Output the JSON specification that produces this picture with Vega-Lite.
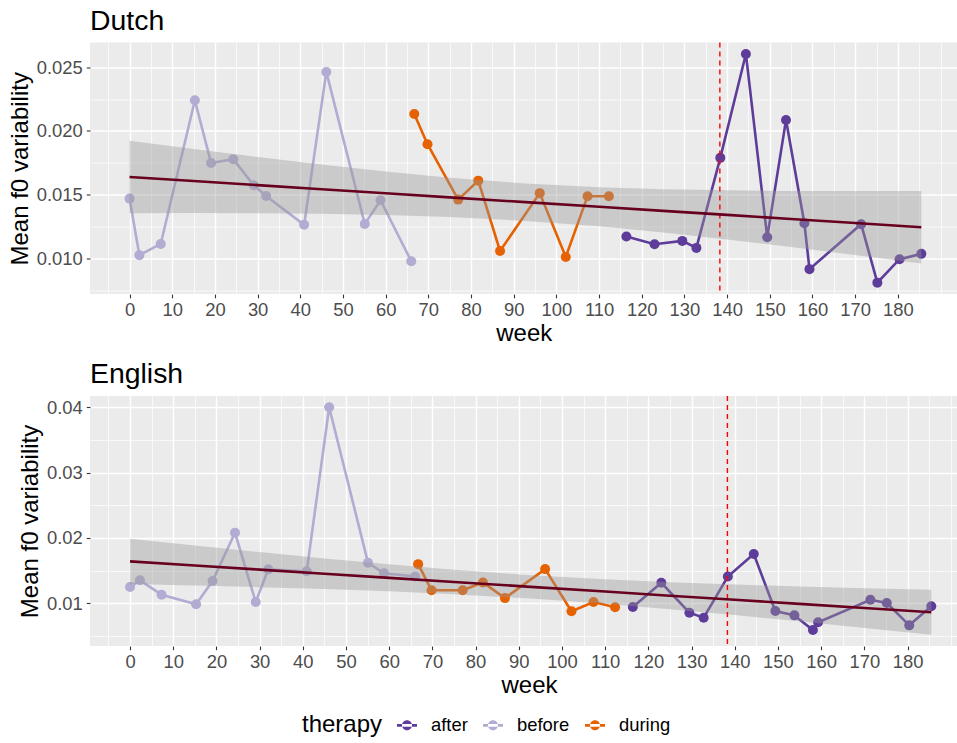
{
  "$schema": "https://vega.github.io/schema/vega-lite/v6.json",
  "padding": {"left": 8, "top": 6.5, "right": 0, "bottom": 0},
  "datasets": {
    "dutch": [
      {"week": 0, "f0": 0.01468, "therapy": "before"},
      {"week": 2.3, "f0": 0.01024, "therapy": "before"},
      {"week": 7.3, "f0": 0.01112, "therapy": "before"},
      {"week": 15.3, "f0": 0.0224, "therapy": "before"},
      {"week": 19.1, "f0": 0.01748, "therapy": "before"},
      {"week": 24.3, "f0": 0.01777, "therapy": "before"},
      {"week": 29.1, "f0": 0.01573, "therapy": "before"},
      {"week": 32.0, "f0": 0.01489, "therapy": "before"},
      {"week": 40.9, "f0": 0.01262, "therapy": "before"},
      {"week": 46.1, "f0": 0.02463, "therapy": "before"},
      {"week": 55.1, "f0": 0.01269, "therapy": "before"},
      {"week": 58.8, "f0": 0.01455, "therapy": "before"},
      {"week": 66.0, "f0": 0.00976, "therapy": "before"},
      {"week": 66.7, "f0": 0.02133, "therapy": "during"},
      {"week": 69.8, "f0": 0.01895, "therapy": "during"},
      {"week": 77.0, "f0": 0.0146, "therapy": "during"},
      {"week": 81.7, "f0": 0.01609, "therapy": "during"},
      {"week": 86.8, "f0": 0.01057, "therapy": "during"},
      {"week": 96.1, "f0": 0.01511, "therapy": "during"},
      {"week": 102.2, "f0": 0.0101, "therapy": "during"},
      {"week": 107.3, "f0": 0.01487, "therapy": "during"},
      {"week": 112.3, "f0": 0.01487, "therapy": "during"},
      {"week": 116.4, "f0": 0.0117, "therapy": "after"},
      {"week": 123.0, "f0": 0.0111, "therapy": "after"},
      {"week": 129.5, "f0": 0.01136, "therapy": "after"},
      {"week": 132.8, "f0": 0.01081, "therapy": "after"},
      {"week": 138.4, "f0": 0.01788, "therapy": "after"},
      {"week": 144.4, "f0": 0.02604, "therapy": "after"},
      {"week": 149.4, "f0": 0.01165, "therapy": "after"},
      {"week": 153.8, "f0": 0.02086, "therapy": "after"},
      {"week": 158.1, "f0": 0.01275, "therapy": "after"},
      {"week": 159.3, "f0": 0.00914, "therapy": "after"},
      {"week": 171.4, "f0": 0.01267, "therapy": "after"},
      {"week": 175.2, "f0": 0.00808, "therapy": "after"},
      {"week": 180.4, "f0": 0.00992, "therapy": "after"},
      {"week": 185.5, "f0": 0.01034, "therapy": "after"}
    ],
    "english": [
      {"week": 0, "f0": 0.01249, "therapy": "before"},
      {"week": 2.3, "f0": 0.01352, "therapy": "before"},
      {"week": 7.3, "f0": 0.01132, "therapy": "before"},
      {"week": 15.3, "f0": 0.00985, "therapy": "before"},
      {"week": 19.1, "f0": 0.01341, "therapy": "before"},
      {"week": 24.3, "f0": 0.0208, "therapy": "before"},
      {"week": 29.1, "f0": 0.0102, "therapy": "before"},
      {"week": 32.0, "f0": 0.0152, "therapy": "before"},
      {"week": 40.9, "f0": 0.0149, "therapy": "before"},
      {"week": 46.1, "f0": 0.0400, "therapy": "before"},
      {"week": 55.1, "f0": 0.0162, "therapy": "before"},
      {"week": 58.8, "f0": 0.0146, "therapy": "before"},
      {"week": 66.0, "f0": 0.0141, "therapy": "before"},
      {"week": 66.7, "f0": 0.0160, "therapy": "during"},
      {"week": 69.8, "f0": 0.0120, "therapy": "during"},
      {"week": 77.0, "f0": 0.0120, "therapy": "during"},
      {"week": 81.7, "f0": 0.0132, "therapy": "during"},
      {"week": 86.8, "f0": 0.0108, "therapy": "during"},
      {"week": 96.1, "f0": 0.01524, "therapy": "during"},
      {"week": 102.2, "f0": 0.00878, "therapy": "during"},
      {"week": 107.3, "f0": 0.0102, "therapy": "during"},
      {"week": 112.3, "f0": 0.00939, "therapy": "during"},
      {"week": 116.4, "f0": 0.00943, "therapy": "after"},
      {"week": 123.0, "f0": 0.01315, "therapy": "after"},
      {"week": 129.5, "f0": 0.00857, "therapy": "after"},
      {"week": 132.8, "f0": 0.0078, "therapy": "after"},
      {"week": 138.4, "f0": 0.0141, "therapy": "after"},
      {"week": 144.4, "f0": 0.01754, "therapy": "after"},
      {"week": 149.4, "f0": 0.00882, "therapy": "after"},
      {"week": 153.8, "f0": 0.00816, "therapy": "after"},
      {"week": 158.1, "f0": 0.00592, "therapy": "after"},
      {"week": 159.3, "f0": 0.0071, "therapy": "after"},
      {"week": 171.4, "f0": 0.01055, "therapy": "after"},
      {"week": 175.2, "f0": 0.01005, "therapy": "after"},
      {"week": 180.4, "f0": 0.00663, "therapy": "after"},
      {"week": 185.5, "f0": 0.00954, "therapy": "after"}
    ],
    "dband": [
      {"week": 0, "fit": 0.01638, "lo": 0.01353, "hi": 0.01923},
      {"week": 15, "fit": 0.01606, "lo": 0.01354, "hi": 0.01858},
      {"week": 30, "fit": 0.01574, "lo": 0.01353, "hi": 0.01795},
      {"week": 45, "fit": 0.01542, "lo": 0.01349, "hi": 0.01735},
      {"week": 60, "fit": 0.0151, "lo": 0.0134, "hi": 0.0168},
      {"week": 75, "fit": 0.01478, "lo": 0.01324, "hi": 0.01632},
      {"week": 92.75, "fit": 0.0144, "lo": 0.01293, "hi": 0.01587},
      {"week": 110, "fit": 0.01404, "lo": 0.0125, "hi": 0.01558},
      {"week": 125, "fit": 0.01372, "lo": 0.01202, "hi": 0.01542},
      {"week": 140, "fit": 0.0134, "lo": 0.01147, "hi": 0.01533},
      {"week": 155, "fit": 0.01308, "lo": 0.01088, "hi": 0.01528},
      {"week": 170, "fit": 0.01276, "lo": 0.01025, "hi": 0.01527},
      {"week": 185.5, "fit": 0.01243, "lo": 0.00958, "hi": 0.01528}
    ],
    "eband": [
      {"week": 0, "fit": 0.01642, "lo": 0.01297, "hi": 0.01987},
      {"week": 15, "fit": 0.01579, "lo": 0.01274, "hi": 0.01884},
      {"week": 30, "fit": 0.01516, "lo": 0.01248, "hi": 0.01784},
      {"week": 45, "fit": 0.01453, "lo": 0.01218, "hi": 0.01688},
      {"week": 60, "fit": 0.0139, "lo": 0.01183, "hi": 0.01597},
      {"week": 75, "fit": 0.01327, "lo": 0.01139, "hi": 0.01515},
      {"week": 92.75, "fit": 0.01252, "lo": 0.01073, "hi": 0.01431},
      {"week": 110, "fit": 0.0118, "lo": 0.00993, "hi": 0.01367},
      {"week": 125, "fit": 0.01117, "lo": 0.00911, "hi": 0.01323},
      {"week": 140, "fit": 0.01054, "lo": 0.0082, "hi": 0.01288},
      {"week": 155, "fit": 0.00991, "lo": 0.00724, "hi": 0.01258},
      {"week": 170, "fit": 0.00928, "lo": 0.00624, "hi": 0.01232},
      {"week": 185.5, "fit": 0.00863, "lo": 0.00518, "hi": 0.01208}
    ],
    "vline": [{"week": 138.3}]
  },
  "vconcat": [
    {
      "title": {"text": "Dutch", "anchor": "start", "frame": "group", "fontSize": 28.4, "font": "Liberation Sans", "fontWeight": "normal", "color": "black", "baseline": "alphabetic", "offset": -16.8},
      "width": 867.6,
      "height": 251.6,
      "resolve": {"axis": {"x": "independent", "y": "independent"}},
      "layer": [
        {
          "layer": [
            {
              "data": {"name": "dutch"},
              "transform": [{"filter": {"field": "therapy", "equal": "before"}}],
              "mark": {"type": "line", "strokeWidth": 2.6, "color": "#B2ABD2"},
              "encoding": {
                "x": {"field": "week", "type": "quantitative", "title": "week",
                  "scale": {"domain": [-9.27, 194.0], "nice": false, "zero": false},
                  "axis": {"values": [0,10,20,30,40,50,60,70,80,90,100,110,120,130,140,150,160,170,180],
                    "gridWidth": 1.4, "minExtent": 22, "maxExtent": 22, "titlePadding": 5, "labelPadding": 2.9}},
                "y": {"field": "f0", "type": "quantitative", "title": "Mean f0 variability",
                  "scale": {"domain": [0.00718, 0.02694], "nice": false, "zero": false},
                  "axis": {"values": [0.01, 0.015, 0.02, 0.025], "format": ".3f", "gridWidth": 1.4,
                    "titlePadding": 4, "labelPadding": 4}}
              }
            },
            {
              "data": {"name": "dutch"},
              "transform": [{"filter": {"field": "therapy", "equal": "during"}}],
              "mark": {"type": "line", "strokeWidth": 2.6, "color": "#E66101"},
              "encoding": {
                "x": {"field": "week", "type": "quantitative"},
                "y": {"field": "f0", "type": "quantitative"}
              }
            },
            {
              "data": {"name": "dutch"},
              "transform": [{"filter": {"field": "therapy", "equal": "after"}}],
              "mark": {"type": "line", "strokeWidth": 2.6, "color": "#5E3C99"},
              "encoding": {
                "x": {"field": "week", "type": "quantitative"},
                "y": {"field": "f0", "type": "quantitative"}
              }
            },
            {
              "data": {"name": "dutch"},
              "mark": {"type": "point", "filled": true, "size": 100, "opacity": 1},
              "encoding": {
                "x": {"field": "week", "type": "quantitative"},
                "y": {"field": "f0", "type": "quantitative"},
                "color": {"field": "therapy", "type": "nominal",
                  "scale": {"domain": ["after", "before", "during"], "range": ["#5E3C99", "#B2ABD2", "#E66101"]},
                  "legend": {"orient": "none", "legendX": 212, "legendY": 672.5, "direction": "horizontal", "title": "therapy",
                    "titleOrient": "left", "titleAnchor": "middle", "titleBaseline": "middle", "titlePadding": 14,
                    "titleFont": "Liberation Sans", "titleFontSize": 24, "titleFontWeight": "normal", "titleColor": "black",
                    "labelFont": "Liberation Sans", "labelFontSize": 18.4, "labelColor": "black", "labelOffset": 14,
                    "columnPadding": 15, "padding": 0,
                    "symbolType": "M-1,-0.14L1,-0.14L1,0.14L-1,0.14Z M-0.5,0A0.5,0.5 0 1,0 0.5,0A0.5,0.5 0 1,0 -0.5,0Z",
                    "symbolSize": 400, "symbolStrokeWidth": 0, "symbolOpacity": 1}}
              }
            },
            {
              "data": {"name": "dband"},
              "mark": {"type": "area", "color": "#999999", "opacity": 0.4},
              "encoding": {
                "x": {"field": "week", "type": "quantitative"},
                "y": {"field": "lo", "type": "quantitative"},
                "y2": {"field": "hi"}
              }
            },
            {
              "data": {"name": "vline"},
              "mark": {"type": "rule", "color": "#FF0000", "strokeWidth": 1.4, "strokeDash": [5, 4]},
              "encoding": {
                "x": {"field": "week", "type": "quantitative"}
              }
            }
          ]
        },
        {
          "data": {"name": "dband"},
          "mark": {"type": "line", "color": "#67001F", "strokeWidth": 2.6},
          "encoding": {
            "x": {"field": "week", "type": "quantitative",
              "axis": {"orient": "top", "values": [-5,5,15,25,35,45,55,65,75,85,95,105,115,125,135,145,155,165,175,185,190],
                "grid": true, "gridWidth": 0.7, "labels": false, "ticks": false, "domain": false, "title": null}},
            "y": {"field": "fit", "type": "quantitative",
              "axis": {"orient": "right", "values": [0.0075, 0.0125, 0.0175, 0.0225],
                "grid": true, "gridWidth": 0.7, "labels": false, "ticks": false, "domain": false, "title": null}}
          }
        }
      ]
    },
    {
      "title": {"text": "English", "anchor": "start", "frame": "group", "fontSize": 28.4, "font": "Liberation Sans", "fontWeight": "normal", "color": "black", "baseline": "alphabetic", "offset": -15.8},
      "width": 878,
      "height": 250,
      "resolve": {"axis": {"x": "independent", "y": "independent"}},
      "layer": [
        {
          "layer": [
            {
              "data": {"name": "english"},
              "transform": [{"filter": {"field": "therapy", "equal": "before"}}],
              "mark": {"type": "line", "strokeWidth": 2.6, "color": "#B2ABD2"},
              "encoding": {
                "x": {"field": "week", "type": "quantitative", "title": "week",
                  "scale": {"domain": [-9.27, 194.0], "nice": false, "zero": false},
                  "axis": {"values": [0,10,20,30,40,50,60,70,80,90,100,110,120,130,140,150,160,170,180],
                    "gridWidth": 1.4, "minExtent": 22, "maxExtent": 22, "titlePadding": 5, "labelPadding": 2.9}},
                "y": {"field": "f0", "type": "quantitative", "title": "Mean f0 variability",
                  "scale": {"domain": [0.00347, 0.04173], "nice": false, "zero": false},
                  "axis": {"values": [0.01, 0.02, 0.03, 0.04], "format": ".2f", "gridWidth": 1.4,
                    "titlePadding": 4, "labelPadding": 4}}
              }
            },
            {
              "data": {"name": "english"},
              "transform": [{"filter": {"field": "therapy", "equal": "during"}}],
              "mark": {"type": "line", "strokeWidth": 2.6, "color": "#E66101"},
              "encoding": {
                "x": {"field": "week", "type": "quantitative"},
                "y": {"field": "f0", "type": "quantitative"}
              }
            },
            {
              "data": {"name": "english"},
              "transform": [{"filter": {"field": "therapy", "equal": "after"}}],
              "mark": {"type": "line", "strokeWidth": 2.6, "color": "#5E3C99"},
              "encoding": {
                "x": {"field": "week", "type": "quantitative"},
                "y": {"field": "f0", "type": "quantitative"}
              }
            },
            {
              "data": {"name": "english"},
              "mark": {"type": "point", "filled": true, "size": 100, "opacity": 1},
              "encoding": {
                "x": {"field": "week", "type": "quantitative"},
                "y": {"field": "f0", "type": "quantitative"},
                "color": {"field": "therapy", "type": "nominal"}
              }
            },
            {
              "data": {"name": "eband"},
              "mark": {"type": "area", "color": "#999999", "opacity": 0.4},
              "encoding": {
                "x": {"field": "week", "type": "quantitative"},
                "y": {"field": "lo", "type": "quantitative"},
                "y2": {"field": "hi"}
              }
            },
            {
              "data": {"name": "vline"},
              "mark": {"type": "rule", "color": "#FF0000", "strokeWidth": 1.4, "strokeDash": [5, 4]},
              "encoding": {
                "x": {"field": "week", "type": "quantitative"}
              }
            }
          ]
        },
        {
          "data": {"name": "eband"},
          "mark": {"type": "line", "color": "#67001F", "strokeWidth": 2.6},
          "encoding": {
            "x": {"field": "week", "type": "quantitative",
              "axis": {"orient": "top", "values": [-5,5,15,25,35,45,55,65,75,85,95,105,115,125,135,145,155,165,175,185,190],
                "grid": true, "gridWidth": 0.7, "labels": false, "ticks": false, "domain": false, "title": null}},
            "y": {"field": "fit", "type": "quantitative",
              "axis": {"orient": "right", "values": [0.005, 0.015, 0.025, 0.035],
                "grid": true, "gridWidth": 0.7, "labels": false, "ticks": false, "domain": false, "title": null}}
          }
        }
      ]
    }
  ],
  "align": "none",
  "center": true,
  "spacing": 13.5,
  "config": {
    "view": {"fill": "#EBEBEB", "stroke": null},
    "axis": {"domain": false, "gridColor": "#FFFFFF", "tickColor": "#333333", "tickSize": 3.7, "tickWidth": 1.1,
      "labelFont": "Liberation Sans", "labelFontSize": 18.4, "labelColor": "#4D4D4D", "labelFlush": false, "labelOverlap": false,
      "titleFont": "Liberation Sans", "titleFontSize": 24, "titleFontWeight": "normal", "titleColor": "#000000"},
    "background": "#FFFFFF"
  }
}
